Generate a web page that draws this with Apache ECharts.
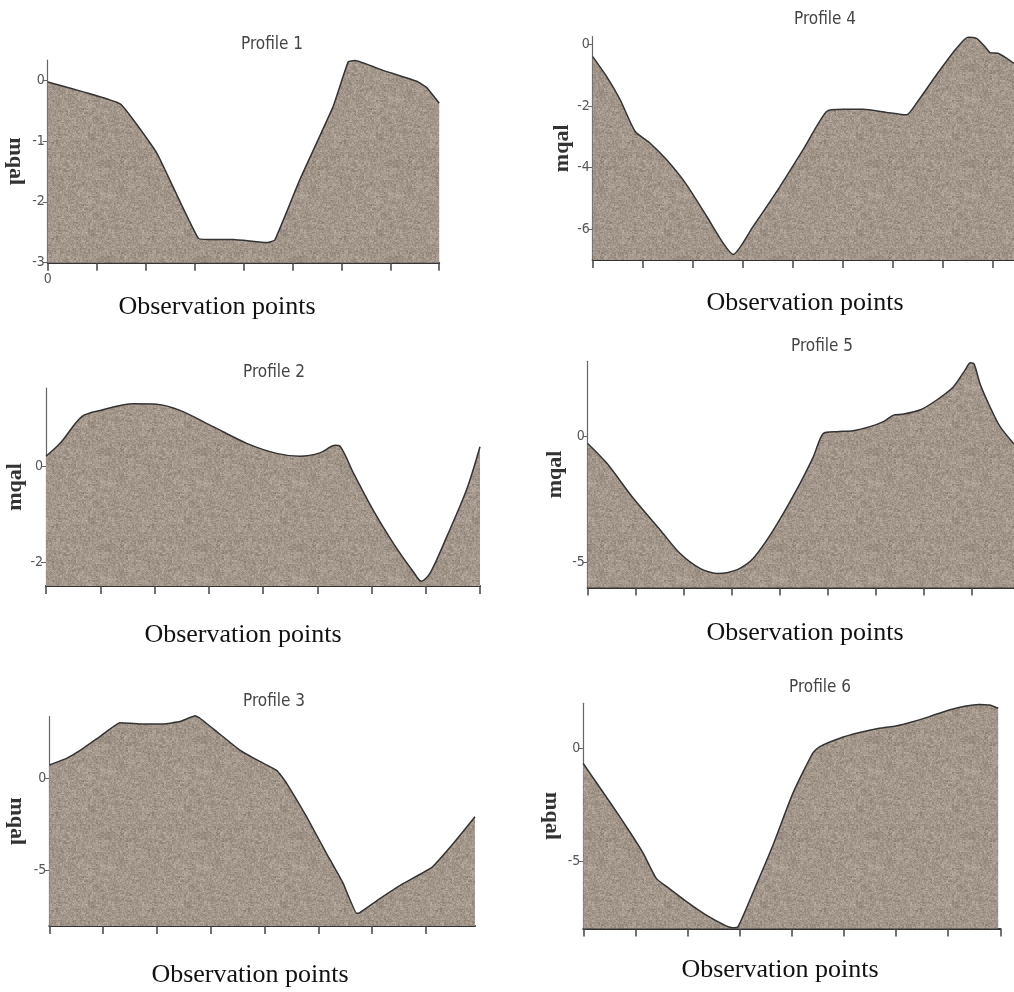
<!DOCTYPE html>
<html><head><meta charset="utf-8">
<script src="https://cdn.jsdelivr.net/npm/echarts@6/dist/echarts.min.js"></script>
<style>html,body{margin:0;padding:0;background:#fff}#c{width:1014px;height:992px}</style>
</head><body><div id="c"></div>
<script>
// ---------- data ----------
const xTicks = [0, 1, 2, 3, 4, 5, 6, 7, 8];
const titles = ['Profile 1', 'Profile 2', 'Profile 3', 'Profile 4', 'Profile 5', 'Profile 6'];
const xName = 'Observation points';
const yName = 'mqal';

const p1X = [0, 1.48, 2.23, 3.08, 3.45, 3.79, 4.47, 4.64, 5.15, 5.83, 6.14, 6.28, 6.85, 7.54, 7.74, 8];
const p1Y = [-0.03, -0.39, -1.2, -2.6, -2.62, -2.62, -2.67, -2.63, -1.64, -0.44, 0.30, 0.32, 0.16, -0.02, -0.12, -0.38];
const p1YTicks = [-3, -2, -1, 0];

const p2X = [0, 0.26, 0.66, 1.0, 1.61, 2.04, 2.47, 3.08, 3.70, 4.25, 4.68, 5.05, 5.33, 5.42, 5.67, 6.03, 6.40, 6.77, 6.92, 7.08, 7.39, 7.75, 8.0];
const p2Y = [0.22, 0.49, 1.05, 1.18, 1.32, 1.31, 1.18, 0.84, 0.49, 0.28, 0.22, 0.29, 0.45, 0.43, -0.14, -0.91, -1.60, -2.20, -2.40, -2.23, -1.46, -0.49, 0.42];
const p2YTicks = [-2, 0];

const p3X = [0, 0.32, 0.63, 0.94, 1.31, 1.69, 2.12, 2.43, 2.71, 2.80, 3.11, 3.54, 3.92, 4.23, 4.41, 4.78, 5.15, 5.46, 5.71, 5.77, 6.15, 6.58, 7.11, 7.51, 7.91];
const p3Y = [0.72, 1.08, 1.62, 2.26, 3.01, 2.94, 2.94, 3.07, 3.38, 3.25, 2.53, 1.53, 0.90, 0.42, -0.27, -2.08, -4.06, -5.69, -7.31, -7.27, -6.50, -5.69, -4.82, -3.52, -2.08];
const p3YTicks = [-5, 0];

const p4X = [0, 0.28, 0.55, 0.85, 1.15, 1.48, 1.88, 2.28, 2.61, 2.81, 3.21, 3.75, 4.21, 4.68, 5.01, 5.41, 5.88, 6.28, 6.48, 6.88, 7.28, 7.51, 7.68, 7.85, 7.95, 8.11, 8.28, 8.43];
const p4Y = [-0.40, -1.05, -1.80, -2.83, -3.21, -3.75, -4.56, -5.58, -6.45, -6.82, -5.91, -4.61, -3.42, -2.18, -2.11, -2.11, -2.21, -2.29, -1.91, -0.99, -0.13, 0.23, 0.19, -0.08, -0.27, -0.29, -0.45, -0.62];
const p4YTicks = [-6, -4, -2, 0];

const p5X = [0, 0.40, 0.95, 1.51, 1.92, 2.34, 2.69, 2.90, 3.17, 3.45, 3.87, 4.35, 4.70, 4.91, 5.19, 5.53, 5.88, 6.16, 6.37, 6.58, 6.92, 7.27, 7.62, 7.86, 7.97, 8.05, 8.17, 8.38, 8.59, 8.88];
const p5Y = [-0.27, -1.06, -2.45, -3.71, -4.64, -5.24, -5.44, -5.41, -5.24, -4.84, -3.71, -2.12, -0.80, 0.13, 0.20, 0.24, 0.40, 0.60, 0.86, 0.90, 1.06, 1.46, 1.99, 2.65, 2.94, 2.89, 2.12, 1.19, 0.40, -0.29];
const p5YTicks = [-5, 0];

const p6X = [0, 0.26, 0.57, 0.89, 1.15, 1.40, 1.60, 1.98, 2.36, 2.74, 2.87, 2.97, 3.25, 3.64, 4.02, 4.40, 4.53, 4.91, 5.30, 5.68, 6.00, 6.32, 6.64, 7.02, 7.34, 7.59, 7.79, 7.96];
const p6Y = [-0.67, -1.55, -2.59, -3.70, -4.66, -5.77, -6.14, -6.80, -7.40, -7.88, -7.96, -7.91, -6.43, -4.29, -2.00, -0.22, 0.07, 0.44, 0.70, 0.89, 0.99, 1.18, 1.41, 1.70, 1.88, 1.95, 1.92, 1.78];
const p6YTicks = [-5, 0];

// ---------- layout / style ----------
const panels = [
  {x: p1X, y: p1Y, yt: p1YTicks, xmax: 8,    ymin: -3,   ymax: 0.33, grid: {left: 47.7, top: 60,    width: 391.5, height: 202.7}, title: [272, 45],  xn: [217, 307], rot: -90, gap: 21, smooth: 0.1,  xLabel: true},
  {x: p2X, y: p2Y, yt: p2YTicks, xmax: 8,    ymin: -2.5, ymax: 1.65, grid: {left: 46,   top: 388,   width: 434,   height: 198},   title: [274, 373], xn: [243, 635], rot: 90,  gap: 19, smooth: 0.3},
  {x: p3X, y: p3Y, yt: p3YTicks, xmax: 7.91, ymin: -8,   ymax: 3.34, grid: {left: 49.3, top: 716.6, width: 425.7, height: 209.5}, title: [274, 702], xn: [250, 975], rot: -90, gap: 22, smooth: 0.1},
  {x: p4X, y: p4Y, yt: p4YTicks, xmax: 8.43, ymin: -7,   ymax: 0.25, grid: {left: 592.7, top: 36.6, width: 421.3, height: 223.4}, title: [825, 20],  xn: [805, 303], rot: 90,  gap: 19, smooth: 0.2},
  {x: p5X, y: p5Y, yt: p5YTicks, xmax: 8.88, ymin: -6,   ymax: 3,    grid: {left: 587.7, top: 361.3, width: 426.3, height: 226.2}, title: [822, 347], xn: [805, 633], rot: 90,  gap: 21, smooth: 0.25},
  {x: p6X, y: p6Y, yt: p6YTicks, xmax: 8,    ymin: -8,   ymax: 2,    grid: {left: 583.3, top: 703.3, width: 417,   height: 225.3}, title: [820, 688], xn: [780, 970], rot: -90, gap: 21, smooth: 0.2}
];

// granite-like texture (deterministic hash, decorative only)
function makeTexture() {
  const s = 96, cv = document.createElement('canvas');
  cv.width = s; cv.height = s;
  const ctx = cv.getContext('2d');
  const img = ctx.createImageData(s, s);
  const h = (i, j) => { const v = Math.sin(i * 127.1 + j * 311.7) * 43758.5453; return v - Math.floor(v); };
  for (let j = 0; j < s; j++) for (let i = 0; i < s; i++) {
    const n = (h(i, j) * 0.45 + h(i >> 1, j >> 1) * 0.35 + h(i >> 2, (j >> 2) + 50) * 0.2) - 0.5;
    const k = (j * s + i) * 4;
    img.data[k] = 163 + n * 60;
    img.data[k + 1] = 150 + n * 60;
    img.data[k + 2] = 138 + n * 60;
    img.data[k + 3] = 255;
  }
  ctx.putImageData(img, 0, 0);
  return cv;
}
const texture = makeTexture();

const narrow = "'Liberation Sans Narrow','DejaVu Sans Condensed','Open Sans',sans-serif";
const serif = "'Liberation Serif','Times New Roman',serif";

const option = {
  animation: false,
  backgroundColor: '#ffffff',
  grid: [], xAxis: [], yAxis: [], series: [], graphic: []
};

panels.forEach((p, i) => {
  option.grid.push(Object.assign({containLabel: false, outerBoundsMode: 'none'}, p.grid));
  option.xAxis.push({
    type: 'value', gridIndex: i, min: 0, max: p.xmax,
    axisLine: {show: true, onZero: false, lineStyle: {color: '#333', width: 2}},
    axisTick: {show: true, length: 8, customValues: xTicks, lineStyle: {color: '#444', width: 1.5}},
    axisLabel: {show: !!p.xLabel, customValues: [0], margin: 10, color: '#555', fontSize: 14, fontFamily: narrow},
    splitLine: {show: false}
  });
  option.yAxis.push({
    type: 'value', gridIndex: i, min: p.ymin, max: p.ymax,
    name: yName, nameLocation: 'middle', nameGap: p.gap, nameRotate: p.rot,
    nameTextStyle: {fontFamily: serif, fontWeight: 'bold', fontSize: 22, color: '#333'},
    axisLine: {show: true, onZero: false, lineStyle: {color: '#666', width: 1.2}},
    axisTick: {show: true, length: 5, customValues: p.yt, lineStyle: {color: '#666', width: 1}},
    axisLabel: {customValues: p.yt, margin: 3, color: '#555', fontSize: 14, fontFamily: narrow},
    splitLine: {show: false}
  });
  option.series.push({
    type: 'line', xAxisIndex: i, yAxisIndex: i,
    data: p.x.map((v, k) => [v, p.y[k]]),
    smooth: p.smooth, symbol: 'none', clip: false,
    lineStyle: {color: '#333', width: 1.5},
    areaStyle: {origin: 'start', opacity: 1, color: {image: texture, repeat: 'repeat'}}
  });
  option.graphic.push({
    type: 'text', x: p.title[0], y: p.title[1],
    style: {text: titles[i], font: '17px ' + narrow, fill: '#444', align: 'center', verticalAlign: 'middle', textAlign: 'center', textVerticalAlign: 'middle'}
  });
  option.graphic.push({
    type: 'text', x: p.xn[0], y: p.xn[1],
    style: {text: xName, font: '26px ' + serif, fill: '#111', align: 'center', verticalAlign: 'middle', textAlign: 'center', textVerticalAlign: 'middle'}
  });
});

const chart = echarts.init(document.getElementById('c'), null, {renderer: 'canvas'});
chart.setOption(option);
</script>
</body></html>
